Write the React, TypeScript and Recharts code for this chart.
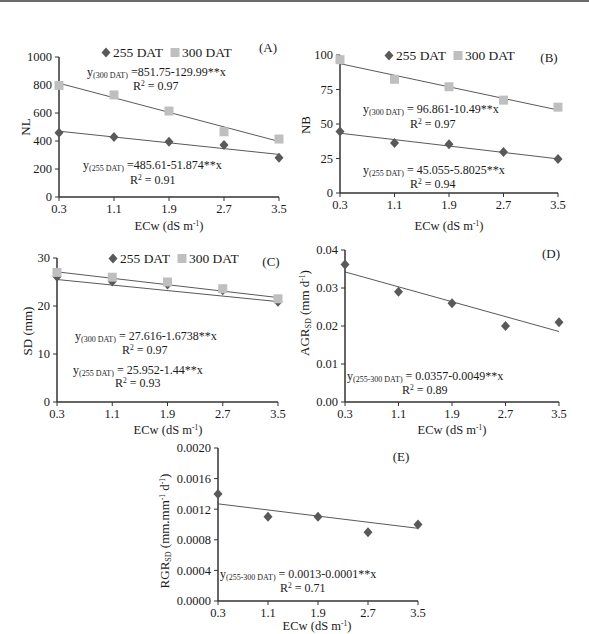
import React from 'react'
import { Legend, ReferenceLine, Scatter, ScatterChart, XAxis, YAxis } from 'recharts'

// electrical conductivity of irrigation water (dS m-1)
const ECW = [0.3, 1.1, 1.9, 2.7, 3.5]
const X_TICKS = [0.3, 1.1, 1.9, 2.7, 3.5]

const NL_255 = [459, 428, 395, 372, 280]
const NL_300 = [797, 729, 614, 466, 414]
const NB_255 = [44.6, 36.2, 35.3, 29.8, 24.6]
const NB_300 = [96.6, 82.4, 77, 67.3, 62.2]
const SD_255 = [26.1, 25.1, 24.5, 23.3, 20.9]
const SD_300 = [27, 26, 25, 23.6, 21.5]
const AGR_SD = [0.0362, 0.029, 0.026, 0.02, 0.021]
const RGR_SD = [0.0014, 0.0011, 0.0011, 0.0009, 0.001]

// fitted y = a + b*x
const FIT_NL_255: [number, number] = [485.61, -51.874]
const FIT_NL_300: [number, number] = [851.75, -129.99]
const FIT_NB_255: [number, number] = [45.055, -5.8025]
const FIT_NB_300: [number, number] = [96.861, -10.49]
const FIT_SD_255: [number, number] = [25.952, -1.44]
const FIT_SD_300: [number, number] = [27.616, -1.6738]
const FIT_AGR: [number, number] = [0.0357, -0.0049]
const FIT_RGR: [number, number] = [0.0013, -0.0001]

const FONT = '"Liberation Serif", "Times New Roman", serif'
const DARK = '#595959'
const LIGHT = '#bfbfbf'
const INK = '#1a1a1a'

type Marker = 'diamond' | 'square'
type Series = { name: string; values: number[]; fit: [number, number]; marker: Marker }
type Rect = { left: number; top: number; right: number; bottom: number }
type Note = { x: number; y: number; node: React.ReactNode }

type Panel = {
  id: string
  plot: Rect
  yDomain: [number, number]
  yTicks: number[]
  yDigits: number
  series: Series[]
  legendAt?: { x: number; y: number }
  letterAt: { x: number; y: number }
  yTitle: React.ReactNode
  yTitleAt: { x: number; y: number }
  xTitleAt: { x: number; y: number }
  notes: Note[]
}

const DiamondShape = (props: any) => {
  const { cx, cy } = props
  if (cx == null || cy == null) return null
  return (
    <polygon
      points={`${cx},${cy - 5} ${cx + 4.5},${cy} ${cx},${cy + 5} ${cx - 4.5},${cy}`}
      fill={DARK}
    />
  )
}

const SquareShape = (props: any) => {
  const { cx, cy } = props
  if (cx == null || cy == null) return null
  return <rect x={cx - 4.5} y={cy - 4.5} width={9} height={9} fill={LIGHT} />
}

const Sub = ({ children }: { children: React.ReactNode }) => (
  <span style={{ fontSize: 8, verticalAlign: '-2px' }}>{children}</span>
)
const Sup = ({ children }: { children: React.ReactNode }) => (
  <span style={{ fontSize: 7.5, verticalAlign: '4px' }}>{children}</span>
)

const eq = (tag: string, body: string) => (
  <>
    y<Sub>{tag}</Sub>
    {body}
  </>
)
const r2 = (v: string) => (
  <>
    R<Sup>2</Sup> = {v}
  </>
)

const xTitle = (
  <>
    ECw (dS m<Sup>-1</Sup>)
  </>
)

const panels: Panel[] = [
  {
    id: 'A',
    plot: { left: 59, top: 57, right: 279, bottom: 197 },
    yDomain: [0, 1000],
    yTicks: [0, 200, 400, 600, 800, 1000],
    yDigits: 0,
    series: [
      { name: '255 DAT', values: NL_255, fit: FIT_NL_255, marker: 'diamond' },
      { name: '300 DAT', values: NL_300, fit: FIT_NL_300, marker: 'square' },
    ],
    legendAt: { x: 101, y: 52 },
    letterAt: { x: 268, y: 47 },
    yTitle: 'NL',
    yTitleAt: { x: 25, y: 127 },
    xTitleAt: { x: 169, y: 226 },
    notes: [
      { x: 87, y: 73, node: eq('(300 DAT)', ' =851.75-129.99**x') },
      { x: 133, y: 86, node: r2('0.97') },
      { x: 83, y: 166, node: eq('(255 DAT)', ' =485.61-51.874**x') },
      { x: 130, y: 180, node: r2('0.91') },
    ],
  },
  {
    id: 'B',
    plot: { left: 340, top: 55, right: 558, bottom: 193 },
    yDomain: [0, 100],
    yTicks: [0, 25, 50, 75, 100],
    yDigits: 0,
    series: [
      { name: '255 DAT', values: NB_255, fit: FIT_NB_255, marker: 'diamond' },
      { name: '300 DAT', values: NB_300, fit: FIT_NB_300, marker: 'square' },
    ],
    legendAt: { x: 384, y: 55 },
    letterAt: { x: 549, y: 57 },
    yTitle: 'NB',
    yTitleAt: { x: 305, y: 125 },
    xTitleAt: { x: 449, y: 226 },
    notes: [
      { x: 363, y: 110, node: eq('(300 DAT)', ' = 96.861-10.49**x') },
      { x: 410, y: 124, node: r2('0.97') },
      { x: 363, y: 171, node: eq('(255 DAT)', ' = 45.055-5.8025**x') },
      { x: 410, y: 184, node: r2('0.94') },
    ],
  },
  {
    id: 'C',
    plot: { left: 57, top: 258, right: 278, bottom: 402 },
    yDomain: [0, 30],
    yTicks: [0, 10, 20, 30],
    yDigits: 0,
    series: [
      { name: '255 DAT', values: SD_255, fit: FIT_SD_255, marker: 'diamond' },
      { name: '300 DAT', values: SD_300, fit: FIT_SD_300, marker: 'square' },
    ],
    legendAt: { x: 108, y: 258 },
    letterAt: { x: 271, y: 261 },
    yTitle: 'SD (mm)',
    yTitleAt: { x: 27, y: 331 },
    xTitleAt: { x: 168, y: 430 },
    notes: [
      { x: 75, y: 337, node: eq('(300 DAT)', ' = 27.616-1.6738**x') },
      { x: 122, y: 350, node: r2('0.97') },
      { x: 73, y: 371, node: eq('(255 DAT)', ' = 25.952-1.44**x') },
      { x: 115, y: 383, node: r2('0.93') },
    ],
  },
  {
    id: 'D',
    plot: { left: 345, top: 250, right: 559, bottom: 402 },
    yDomain: [0, 0.04],
    yTicks: [0, 0.01, 0.02, 0.03, 0.04],
    yDigits: 2,
    series: [{ name: '255-300 DAT', values: AGR_SD, fit: FIT_AGR, marker: 'diamond' }],
    letterAt: { x: 551, y: 253 },
    yTitle: (
      <>
        AGR<Sub>SD</Sub> (mm d<Sup>-1</Sup>)
      </>
    ),
    yTitleAt: { x: 305, y: 313 },
    xTitleAt: { x: 452, y: 430 },
    notes: [
      { x: 347, y: 377, node: eq('(255-300 DAT)', ' = 0.0357-0.0049**x') },
      { x: 402, y: 390, node: r2('0.89') },
    ],
  },
  {
    id: 'E',
    plot: { left: 218, top: 448, right: 418, bottom: 601 },
    yDomain: [0, 0.002],
    yTicks: [0, 0.0004, 0.0008, 0.0012, 0.0016, 0.002],
    yDigits: 4,
    series: [{ name: '255-300 DAT', values: RGR_SD, fit: FIT_RGR, marker: 'diamond' }],
    letterAt: { x: 401, y: 456 },
    yTitle: (
      <>
        RGR<Sub>SD</Sub> (mm.mm<Sup>-1</Sup> d<Sup>-1</Sup>)
      </>
    ),
    yTitleAt: { x: 165, y: 531 },
    xTitleAt: { x: 317, y: 626 },
    notes: [
      { x: 220, y: 575, node: eq('(255-300 DAT)', ' = 0.0013-0.0001**x') },
      { x: 280, y: 588, node: r2('0.71') },
    ],
  },
]

// chart box around each plot rectangle
const Y_AXIS_W = 50
const X_AXIS_H = 30
const PAD_TOP = 10
const PAD_RIGHT = 10

const axisLine = { stroke: '#333', strokeWidth: 1.5 }
const tickStyle = { fill: INK, fontSize: 12.5, fontFamily: FONT }

function LegendBox({ series }: { series: Series[] }) {
  return (
    <div style={{ display: 'flex', alignItems: 'center', fontFamily: FONT, fontSize: 13.5, color: INK, whiteSpace: 'nowrap', lineHeight: 1 }}>
      {series.map((s, i) => (
        <span key={s.name} style={{ display: 'flex', alignItems: 'center', marginRight: i === 0 ? 7 : 0 }}>
          <svg width={10} height={11} style={{ marginRight: 2 }}>
            {s.marker === 'diamond' ? <DiamondShape cx={5} cy={5.5} /> : <SquareShape cx={5} cy={5.5} />}
          </svg>
          {s.name}
        </span>
      ))}
    </div>
  )
}

function PanelChart({ p }: { p: Panel }) {
  const plotW = p.plot.right - p.plot.left
  const plotH = p.plot.bottom - p.plot.top
  const left = p.plot.left - Y_AXIS_W
  const top = p.plot.top - PAD_TOP
  const [x0, x1] = [X_TICKS[0], X_TICKS[X_TICKS.length - 1]]

  return (
    <div style={{ position: 'absolute', left, top }}>
      <ScatterChart
        width={Y_AXIS_W + plotW + PAD_RIGHT}
        height={PAD_TOP + plotH + X_AXIS_H}
        margin={{ top: PAD_TOP, right: PAD_RIGHT, bottom: 0, left: 0 }}
      >
        <XAxis
          type="number"
          dataKey="x"
          domain={[x0, x1]}
          ticks={X_TICKS}
          tickFormatter={(v: number) => v.toFixed(1)}
          height={X_AXIS_H}
          axisLine={axisLine}
          tickLine={{ stroke: '#333' }}
          tickSize={4}
          tickMargin={3}
          tick={tickStyle}
          interval={0}
        />
        <YAxis
          type="number"
          dataKey="y"
          domain={p.yDomain}
          ticks={p.yTicks}
          tickFormatter={(v: number) => v.toFixed(p.yDigits)}
          width={Y_AXIS_W}
          axisLine={axisLine}
          tickLine={{ stroke: '#333' }}
          tickSize={4}
          tickMargin={3}
          tick={tickStyle}
          interval={0}
        />
        {p.series.map((s) => (
          <ReferenceLine
            key={`fit-${s.name}`}
            segment={[
              { x: x0, y: s.fit[0] + s.fit[1] * x0 },
              { x: x1, y: s.fit[0] + s.fit[1] * x1 },
            ]}
            stroke={DARK}
            strokeWidth={1}
          />
        ))}
        {p.series.map((s) => (
          <Scatter
            key={s.name}
            name={s.name}
            data={ECW.map((x, i) => ({ x, y: s.values[i] }))}
            shape={s.marker === 'diamond' ? DiamondShape : SquareShape}
            isAnimationActive={false}
          />
        ))}
        {p.legendAt && (
          <Legend
            layout="horizontal"
            verticalAlign="middle"
            align="center"
            wrapperStyle={{ left: p.legendAt.x - left, top: p.legendAt.y - 6 - top, width: 'auto', height: 'auto' }}
            content={() => <LegendBox series={p.series} />}
          />
        )}
      </ScatterChart>
    </div>
  )
}

const textBase: React.CSSProperties = {
  position: 'absolute',
  fontFamily: FONT,
  color: INK,
  whiteSpace: 'nowrap',
  lineHeight: 1,
}

function PanelText({ p }: { p: Panel }) {
  return (
    <>
      <div style={{ ...textBase, left: p.letterAt.x, top: p.letterAt.y, fontSize: 13, transform: 'translate(-50%, -50%)' }}>
        ({p.id})
      </div>
      <div style={{ ...textBase, left: p.xTitleAt.x, top: p.xTitleAt.y, fontSize: 12.5, transform: 'translate(-50%, -50%)' }}>
        {xTitle}
      </div>
      <div
        style={{
          ...textBase,
          left: p.yTitleAt.x,
          top: p.yTitleAt.y,
          fontSize: 13,
          transform: 'translate(-50%, -50%) rotate(-90deg)',
        }}
      >
        {p.yTitle}
      </div>
      {p.notes.map((n, i) => (
        <div key={i} style={{ ...textBase, left: n.x, top: n.y, fontSize: 12, transform: 'translateY(-50%)' }}>
          {n.node}
        </div>
      ))}
    </>
  )
}

export default function App() {
  return (
    <div
      style={{
        position: 'absolute',
        left: 0,
        top: 0,
        width: 589,
        height: 634,
        background: '#fff',
        overflow: 'hidden',
      }}
    >
      <div style={{ position: 'absolute', left: 0, top: 0, width: 589, height: 2, background: '#6b6b6b' }} />
      {panels.map((p) => (
        <React.Fragment key={p.id}>
          <PanelChart p={p} />
          <PanelText p={p} />
        </React.Fragment>
      ))}
    </div>
  )
}
